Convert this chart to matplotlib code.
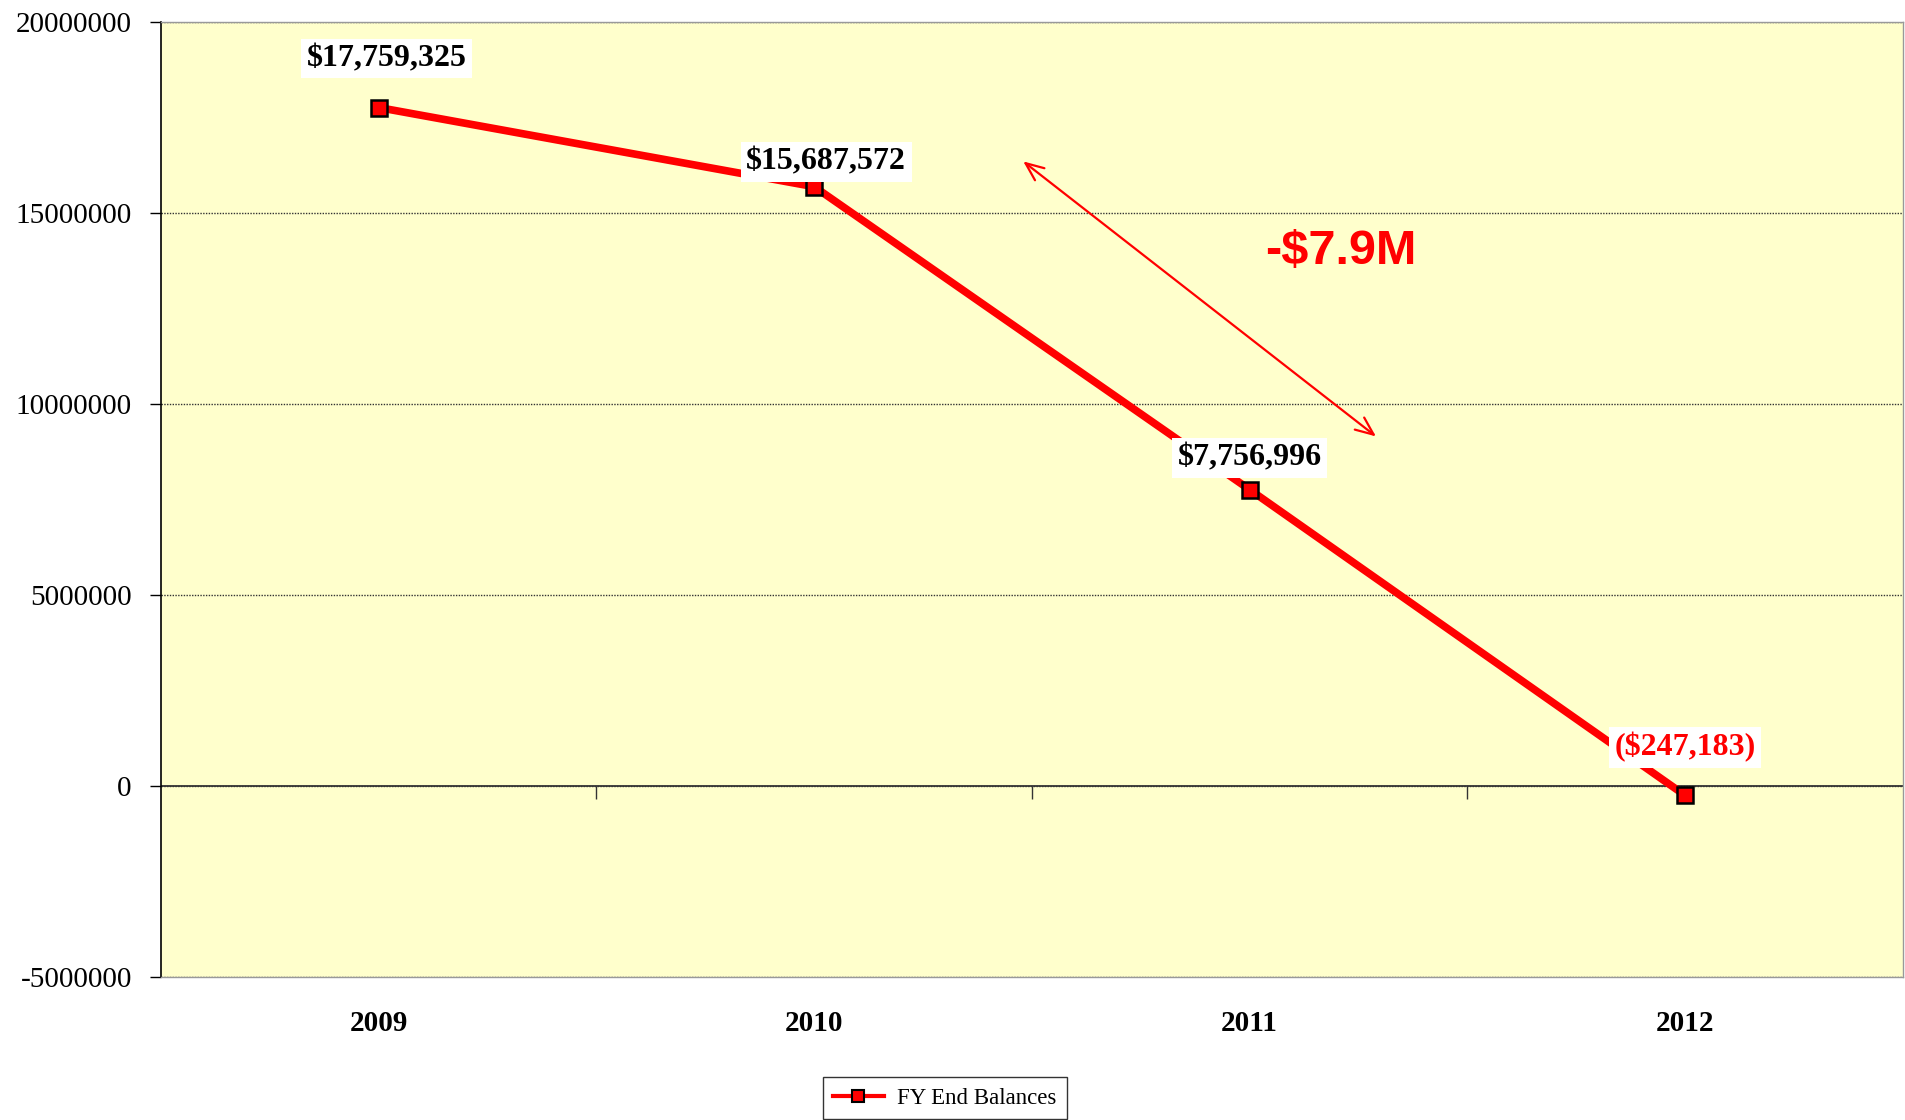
import matplotlib.pyplot as plt
from matplotlib.lines import Line2D

# data
years = ["2009", "2010", "2011", "2012"]
balances = [17759325, 15687572, 7756996, -247183]
labels = ["$17,759,325", "$15,687,572", "$7,756,996", "($247,183)"]
label_colors = ["black", "black", "black", "red"]
yticks = [-5000000, 0, 5000000, 10000000, 15000000, 20000000]

# label offsets in pixels (dx, dy)
offsets = [(8, 49), (12, 25), (0, 32), (0, 48)]

# double arrow for the drop annotation (data coords)
arrow_start = (1.48, 16.35e6)
arrow_end = (2.29, 9.15e6)
drop_text = "-$7.9M"

serif = "Liberation Serif"

fig = plt.figure(figsize=(19.05, 11.2), dpi=100)
ax = fig.add_axes([0.0845, 0.1277, 0.9144, 0.8527])
ax.set_facecolor("#FFFFCC")

xs = list(range(len(years)))
ax.plot(xs, balances, color="red", lw=5.5, marker="s", markersize=12,
        markerfacecolor="red", markeredgecolor="black", markeredgewidth=1.8,
        zorder=4, solid_capstyle="butt")

for x, v, txt, c, off in zip(xs, balances, labels, label_colors, offsets):
    ax.annotate(txt, (x, v), xytext=off, textcoords="offset pixels",
                ha="center", va="center", fontsize=23, fontweight="bold",
                family=serif, color=c, zorder=5,
                bbox=dict(facecolor="white", edgecolor="none", pad=4))

ax.annotate("", xy=arrow_start, xytext=arrow_end,
            arrowprops=dict(arrowstyle="<->,head_length=1.3,head_width=0.55",
                            color="red", lw=1.6, shrinkA=0, shrinkB=0), zorder=3)
ax.text(2.21, 14.0e6, drop_text, color="red", fontsize=35, fontweight="bold",
        family="Liberation Sans", ha="center", va="center")

ax.set_xlim(-0.5, 3.5)
ax.set_ylim(-5000000, 20000000)
ax.set_yticks(yticks)
ax.set_yticklabels([str(t) for t in yticks], family=serif, fontsize=21)
ax.tick_params(axis="y", direction="out", length=8, width=1, pad=13, color="black")
ax.yaxis.grid(True, linestyle=(0, (1, 1)), color="#333333", lw=1)
ax.axhline(0, color="#333333", lw=1.3, zorder=2)

ax.set_xticks(xs)
ax.set_xticklabels(years, family=serif, fontsize=21, fontweight="bold")
ax.tick_params(axis="x", length=0, pad=24)

sec = ax.secondary_xaxis(0.2)
sec.set_xticks([0.5, 1.5, 2.5])
sec.set_xticklabels([])
sec.tick_params(direction="out", length=9, width=1, color="#333333")
sec.spines["bottom"].set_visible(False)

ax.spines["left"].set_color("black")
ax.spines["left"].set_linewidth(1.2)
for s in ["top", "right", "bottom"]:
    ax.spines[s].set_color("#999999")
    ax.spines[s].set_linewidth(1)

handle = Line2D([], [], color="red", lw=3, marker="s", markersize=9,
                markerfacecolor="red", markeredgecolor="black", markeredgewidth=1.5)
leg = fig.legend([handle], ["FY End Balances"], loc="center",
                 bbox_to_anchor=(0.496, 0.0196), fancybox=False, framealpha=1,
                 edgecolor="#333333", prop={"family": serif, "size": 16.5},
                 handlelength=2.2, handletextpad=0.6, borderpad=0.45)
leg.get_frame().set_linewidth(1)

fig.savefig("out.png", dpi=100)
